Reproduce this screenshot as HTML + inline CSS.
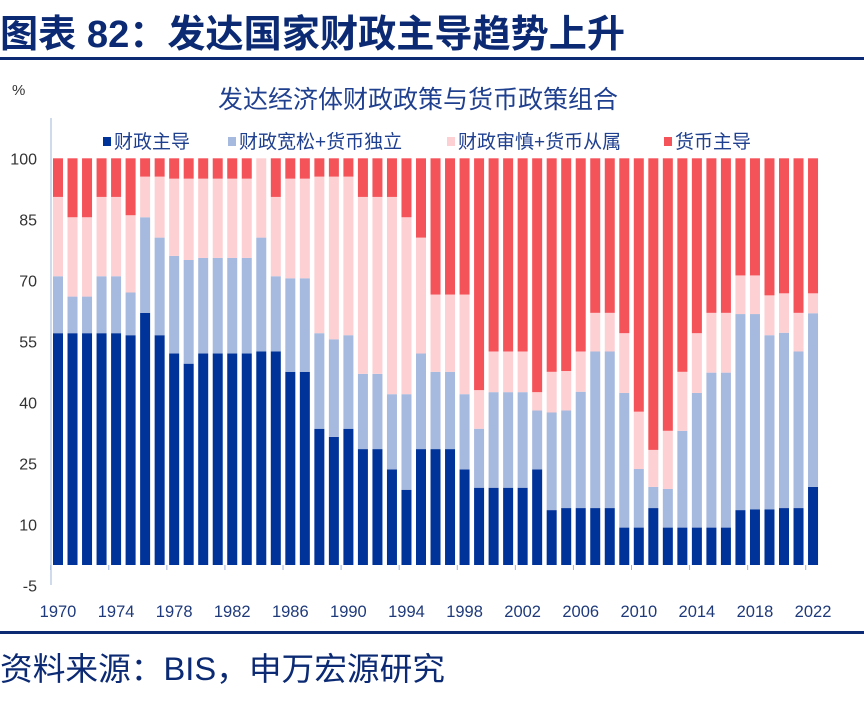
<!DOCTYPE html>
<html><head><meta charset="utf-8"><style>
body{margin:0;background:#fff;width:864px;height:698px;overflow:hidden;font-family:"Liberation Sans","Noto Sans CJK SC",sans-serif;}
</style></head><body>
<svg width="864" height="698" xmlns="http://www.w3.org/2000/svg">
<text x="0" y="47" font-size="38" font-weight="bold" fill="#0b2a73" font-family="Liberation Sans, Noto Sans CJK SC, sans-serif" textLength="625" lengthAdjust="spacingAndGlyphs">图表 82：发达国家财政主导趋势上升</text>
<rect x="0" y="57" width="864" height="3" fill="#0b2a73"/>
<text x="12" y="95" font-size="15" fill="#333">%</text>
<text x="418" y="108" font-size="25" fill="#1f3f8f" text-anchor="middle" font-family="Liberation Sans, Noto Sans CJK SC, sans-serif">发达经济体财政政策与货币政策组合</text>
<g id="legend" font-size="19" fill="#1f3f8f" font-family="Liberation Sans, Noto Sans CJK SC, sans-serif"></g>
<line x1="51" y1="118" x2="51" y2="585" stroke="#9fb4d8"/>
<g id="yt" font-size="16" fill="#333" text-anchor="end"></g>
<g id="bars"></g>
<g id="xt" font-size="16.5" fill="#1f3a7a" text-anchor="middle"></g>
<rect x="0" y="631" width="864" height="3" fill="#0b2a73"/>
<text x="0" y="680" font-size="32" fill="#0b2a73" font-family="Liberation Sans, Noto Sans CJK SC, sans-serif" textLength="445" lengthAdjust="spacingAndGlyphs">资料来源：BIS，申万宏源研究</text>
</svg>
<script>
const years=[];for(let y=1970;y<=2022;y++)years.push(y);
const fiscalTop=[57,57,57,57,57,56.5,62,56.5,52,49.5,52,52,52,52,52.5,52.5,47.5,47.5,33.5,31.5,33.5,28.5,28.5,23.5,18.5,28.5,28.5,28.5,23.5,19,19,19,19,23.5,13.5,14,14,14,14,9.2,9.2,14,9.2,9.2,9.2,9.2,9.2,13.5,13.7,13.7,14,14,19.2];
const looseTop=[71,66,66,71,71,67,85.5,80.5,76,75,75.5,75.5,75.5,75.5,80.5,71,70.5,70.5,57,55.5,56.5,47,47,42,42,52,47.5,47.5,42,33.5,42.5,42.5,42.5,38,37.5,38,42.6,52.5,52.5,42.3,23.6,19.2,18.7,33,42.3,47.3,47.3,61.7,61.7,56.5,57.1,52.5,61.9];
const prudentTop=[90.5,85.5,85.5,90.5,90.5,86,95.5,95.5,95,95,95,95,95,95,100,90.5,95,95,95.5,95.5,95.5,90.5,90.5,90.5,85.5,80.5,66.5,66.5,66.5,43,52.5,52.5,52.5,42.5,47.5,47.7,52.5,62,62,57,37.7,28.3,33,47.5,57,62,62,71.2,71.2,66.3,66.8,62,66.8];
const yTicks=[-5,10,25,40,55,70,85,100];
const colors=['#003399','#a6b9de','#fdd0d3','#f4535a'];
const names=['财政主导','财政宽松+货币独立','财政审慎+货币从属','货币主导'];
const NS='http://www.w3.org/2000/svg';
const yS=v=>565-v*4.067;
const xS=i=>58+i*14.52;
const bars=document.getElementById('bars');
years.forEach((yr,i)=>{
  const bounds=[0,fiscalTop[i],looseTop[i],prudentTop[i],100];
  for(let s=0;s<4;s++){
    const h=yS(bounds[s])-yS(bounds[s+1]);
    if(h<=0)continue;
    const r=document.createElementNS(NS,'rect');
    r.setAttribute('x',xS(i)-5);r.setAttribute('width',10);
    r.setAttribute('y',yS(bounds[s+1]));r.setAttribute('height',h);
    r.setAttribute('fill',colors[s]);
    
    
    bars.appendChild(r);
  }
});
const yt=document.getElementById('yt');
yTicks.forEach(v=>{
  const t=document.createElementNS(NS,'text');
  t.setAttribute('x',37);t.setAttribute('y',yS(v)+6);t.textContent=v;
  
  
  yt.appendChild(t);
});
const xt=document.getElementById('xt');
years.forEach((yr,i)=>{
  if((yr-1970)%4)return;
  const t=document.createElementNS(NS,'text');
  t.setAttribute('x',xS(i));t.setAttribute('y',617);t.textContent=yr;
  
  
  xt.appendChild(t);
  const l=document.createElementNS(NS,'line');
  l.setAttribute('x1',xS(i)-7.3);l.setAttribute('x2',xS(i)-7.3);l.setAttribute('y1',565);l.setAttribute('y2',570);l.setAttribute('stroke','#9fb4d8');
  
  
  xt.appendChild(l);
});
const lg=document.getElementById('legend');
const lx=[103,228,447,664];
names.forEach((n,i)=>{
  const r=document.createElementNS(NS,'rect');
  r.setAttribute('x',lx[i]);r.setAttribute('y',137);r.setAttribute('width',8);r.setAttribute('height',9);r.setAttribute('fill',colors[i]);
  
  
  lg.appendChild(r);
  const t=document.createElementNS(NS,'text');
  t.setAttribute('x',lx[i]+11);t.setAttribute('y',148);t.textContent=n;
  
  
  lg.appendChild(t);
});
</script>
</body></html>
